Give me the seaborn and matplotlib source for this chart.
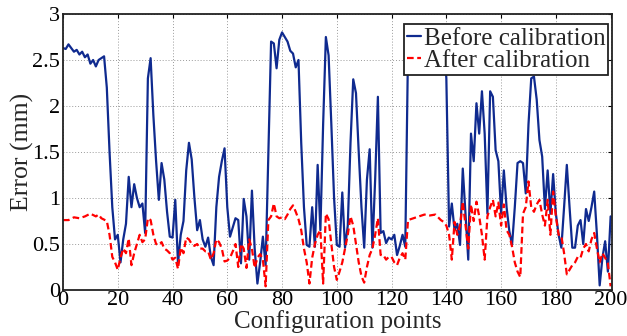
import matplotlib
matplotlib.use("Agg")
import matplotlib.pyplot as plt
import seaborn as sns
import numpy as np

# ---- data ----
before_x = [0, 1, 2, 3, 4, 5, 6, 7, 8, 9, 10, 11, 12, 13, 14, 15, 16, 17, 18, 19,
            20, 21, 22, 23, 24, 25, 26, 27, 28, 29, 30, 31, 32, 33, 34, 35, 36, 37, 38, 39,
            40, 41, 42, 43, 44, 45, 46, 47, 48, 49, 50, 51, 52, 53, 54, 55, 56, 57, 58, 59,
            60, 61, 62, 63, 64, 65, 66, 67, 68, 69, 70, 71, 72, 73, 74, 75, 76, 77, 78, 79,
            80, 81, 82, 83, 84, 85, 86, 87, 88, 89, 90, 91, 92, 93, 94, 95, 96, 97, 98, 99,
            100, 101, 102, 103, 104, 105, 106, 107, 108, 109, 110, 111, 112, 113, 114, 115, 116, 117, 118, 119,
            120, 121, 122, 123, 124, 125, 126, 127, 130, 133, 136, 139, 140, 141, 142, 143, 144, 145, 146, 147,
            148, 149, 150, 151, 152, 153, 154, 155, 156, 157, 158, 159, 160, 161, 162, 163, 164, 165, 166, 167,
            168, 169, 170, 171, 172, 173, 174, 175, 176, 177, 178, 179, 180, 181, 182, 183, 184, 185, 186, 187,
            188, 189, 190, 191, 192, 193, 194, 195, 196, 197, 198, 199, 200]
before_y = [2.63, 2.62, 2.67, 2.63, 2.59, 2.61, 2.56, 2.59, 2.53, 2.56, 2.46, 2.50, 2.43, 2.50, 2.52, 2.54, 2.20, 1.50, 0.90, 0.55,
            0.60, 0.30, 0.55, 0.72, 1.23, 0.90, 1.15, 1.00, 0.90, 0.94, 0.62, 2.30, 2.52, 1.90, 1.40, 0.98, 1.38, 1.20, 0.85, 0.58,
            0.57, 0.98, 0.29, 0.60, 0.75, 1.30, 1.60, 1.42, 1.00, 0.65, 0.76, 0.55, 0.47, 0.57, 0.36, 0.27, 0.90, 1.23, 1.40, 1.54,
            0.90, 0.58, 0.68, 0.78, 0.76, 0.29, 0.99, 0.80, 0.33, 1.08, 0.45, 0.07, 0.30, 0.58, 0.27, 1.50, 2.70, 2.68, 2.41, 2.72,
            2.80, 2.75, 2.70, 2.60, 2.57, 2.42, 2.50, 1.60, 0.90, 0.49, 0.47, 0.90, 0.47, 1.36, 0.65, 1.80, 2.75, 2.55, 1.80, 1.00,
            0.49, 0.47, 1.06, 0.46, 0.70, 1.60, 2.29, 2.14, 1.50, 0.90, 0.46, 1.20, 1.53, 0.46, 1.20, 2.10, 0.62, 0.64, 0.51, 0.57,
            0.55, 0.60, 0.38, 0.48, 0.60, 0.47, 2.60, 2.85, 2.80, 2.85, 2.80, 2.75, 2.30, 0.69, 0.94, 0.65, 0.72, 0.49, 1.32, 0.83,
            0.33, 1.70, 1.40, 2.03, 1.70, 2.16, 1.70, 0.83, 2.16, 2.10, 1.52, 1.40, 0.83, 1.30, 0.90, 0.64, 0.49, 0.90, 1.38, 1.40,
            1.38, 1.05, 1.80, 2.30, 2.32, 2.07, 1.63, 1.45, 0.88, 1.30, 0.83, 1.26, 0.83, 0.60, 0.46, 0.90, 1.36, 0.90, 0.46, 0.46,
            0.70, 0.76, 0.50, 0.88, 0.75, 0.90, 1.07, 0.60, 0.05, 0.35, 0.53, 0.20, 0.80]

after_x = [0, 2, 4, 6, 8, 10, 12, 13, 14, 16, 17, 18, 19,
           20, 21, 22, 23, 24, 25, 26, 27, 28, 29, 30, 31, 32, 33, 34, 35, 36, 37, 38, 39,
           40, 41, 42, 43, 44, 45, 46, 47, 48, 49, 50, 51, 52, 53, 54, 55, 56, 57, 58, 59,
           60, 61, 62, 63, 64, 65, 66, 67, 68, 69, 70, 71, 72, 73, 74, 75, 76, 77, 78, 79,
           80, 81, 82, 83, 84, 85, 86, 87, 88, 89, 90, 91, 92, 93, 94, 95, 96, 97, 98, 99,
           100, 101, 102, 103, 104, 105, 106, 107, 108, 109, 110, 111, 112, 113, 114, 115, 116, 117, 118, 119,
           120, 121, 122, 123, 124, 125, 126, 128, 130, 132, 134, 136, 138, 139, 140, 141, 142, 143, 144, 145, 146, 147,
           148, 149, 150, 151, 152, 153, 154, 155, 156, 157, 158, 159, 160, 161, 162, 163, 164, 165, 166, 167,
           168, 169, 170, 171, 172, 173, 174, 175, 176, 177, 178, 179, 180, 181, 182, 183, 184, 185, 186, 187,
           188, 189, 190, 191, 192, 193, 194, 195, 196, 197, 198, 199, 200]
after_y = [0.76, 0.76, 0.79, 0.78, 0.80, 0.83, 0.80, 0.82, 0.78, 0.75, 0.60, 0.36, 0.30,
           0.22, 0.35, 0.45, 0.40, 0.56, 0.27, 0.40, 0.50, 0.60, 0.52, 0.55, 0.78, 0.76, 0.60, 0.50, 0.49, 0.52, 0.45, 0.43, 0.40,
           0.33, 0.35, 0.23, 0.46, 0.40, 0.57, 0.55, 0.50, 0.48, 0.50, 0.45, 0.45, 0.42, 0.42, 0.33, 0.40, 0.55, 0.52, 0.45, 0.31,
           0.32, 0.35, 0.42, 0.50, 0.25, 0.50, 0.45, 0.24, 0.55, 0.45, 0.24, 0.35, 0.39, 0.33, 0.04, 0.76, 0.80, 0.94, 0.80, 0.78,
           0.79, 0.77, 0.82, 0.88, 0.92, 0.85, 0.77, 0.65, 0.45, 0.30, 0.07, 0.35, 0.50, 0.60, 0.65, 0.07, 0.83, 0.77, 0.50, 0.25,
           0.11, 0.20, 0.30, 0.45, 0.60, 0.80, 0.70, 0.50, 0.30, 0.15, 0.08, 0.25, 0.38, 0.45, 0.60, 0.78, 0.38, 0.38, 0.33, 0.36,
           0.36, 0.30, 0.27, 0.35, 0.40, 0.33, 0.76, 0.78, 0.80, 0.82, 0.81, 0.82, 0.76, 0.74, 0.70, 0.60, 0.33, 0.74, 0.60, 0.70, 0.96, 0.70,
           0.45, 0.93, 0.75, 0.96, 0.80, 0.60, 0.33, 0.80, 0.90, 0.98, 0.80, 0.95, 0.70, 0.93, 0.65, 0.60, 0.47, 0.30, 0.20, 0.14,
           0.83, 0.90, 1.18, 0.90, 0.85, 0.93, 0.98, 0.82, 0.70, 0.98, 0.60, 1.07, 0.80, 0.60, 0.59, 0.40, 0.17, 0.22, 0.27, 0.30,
           0.36, 0.35, 0.45, 0.50, 0.42, 0.55, 0.62, 0.45, 0.30, 0.40, 0.35, 0.29, 0.04]

series_labels = ["Before calibration", "After calibration"]
x_ticks = [0, 20, 40, 60, 80, 100, 120, 140, 160, 180, 200]
y_ticks = [0, 0.5, 1, 1.5, 2, 2.5, 3]
y_tick_labels = ["0", "0.5", "1", "1.5", "2", "2.5", "3"]

# ---- style ----
sns.set_style("white")
plt.rcParams["font.family"] = ["Liberation Serif", "DejaVu Serif"]

fig = plt.figure(figsize=(6.27, 3.36), dpi=100)
ax = fig.add_axes([63 / 627, 46 / 336, 549 / 627, 276 / 336])

sns.lineplot(x=before_x, y=before_y, ax=ax, color="#0f2a8f", linewidth=1.6,
             label=series_labels[0], estimator=None, sort=False)
sns.lineplot(x=after_x, y=after_y, ax=ax, color="#ff0000", linewidth=1.6,
             linestyle=(0, (3, 1.6)), label=series_labels[1], estimator=None, sort=False)

ax.set_xlim(0, 200.5)
ax.set_ylim(0, 3)
ax.set_xticks(x_ticks)
ax.set_xticklabels([str(t) for t in x_ticks])
ax.set_yticks(y_ticks)
ax.set_yticklabels(y_tick_labels)
ax.grid(True, linestyle=(0, (1, 2)), color="#9a9a9a", linewidth=0.7)
ax.tick_params(direction="in", length=3, width=0.8, top=True, right=True,
               labelsize=16, pad=2, colors="black")
ax.tick_params(axis="x", pad=1)
for s in ax.spines.values():
    s.set_color("#222222")
    s.set_linewidth(1.3)

ax.set_xlabel("Configuration points", fontsize=18, labelpad=0)
ax.set_ylabel("Error (mm)", fontsize=18.5, labelpad=-1)

leg = ax.legend(loc="upper right", bbox_to_anchor=(0.993, 0.963), fontsize=18,
                frameon=True, fancybox=False, edgecolor="#222222", framealpha=1,
                handlelength=0.55, handletextpad=0.1, borderpad=0.12,
                labelspacing=0.0, borderaxespad=0)
leg.get_frame().set_linewidth(1.3)

fig.savefig("out.png", dpi=100)
